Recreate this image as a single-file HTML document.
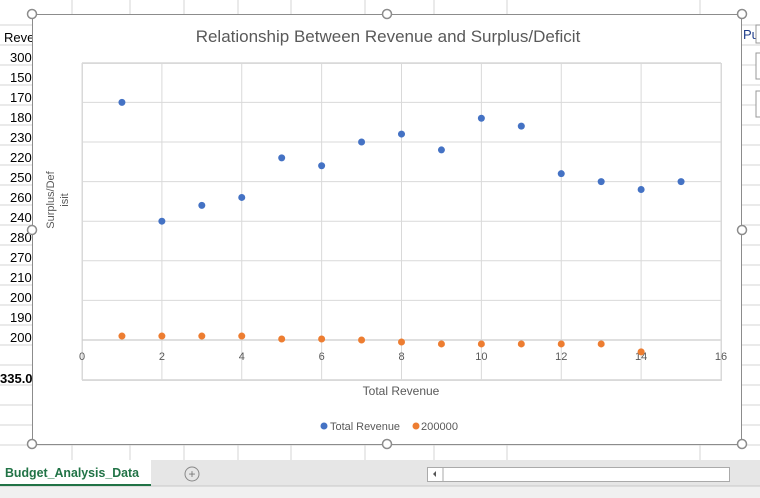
<!DOCTYPE html>
<html><head><meta charset="utf-8"><style>
body{margin:0;width:760px;height:498px;overflow:hidden;background:#fff;font-family:"Liberation Sans",sans-serif;position:relative}
.abs{position:absolute}
</style></head><body>
<svg class="abs" style="left:0;top:0" width="760" height="498">
  <g id="sheetgrid" stroke="#d4d4d4" stroke-width="1"></g>
  <g id="leftcol" font-size="13" fill="#000" font-family="Liberation Sans, sans-serif"></g>
  <text x="4" y="42" font-size="13">Reve</text>
  <text x="0" y="383" font-size="13" font-weight="bold">335.0</text>
  <text x="743" y="39" font-size="13" fill="#1f3d8a">Pu</text>
  <rect x="756" y="25" width="10" height="18" fill="#fff" stroke="#999"/>
  <rect x="756" y="53" width="10" height="26" fill="#fff" stroke="#999"/>
  <rect x="756" y="91" width="10" height="26" fill="#fff" stroke="#999"/>
  <!-- tab bar -->
  <rect x="0" y="460" width="760" height="38" fill="#e6e6e6"/>
  <rect x="0" y="486" width="760" height="12" fill="#f0f0f0"/>
  <line x1="0" y1="486" x2="760" y2="486" stroke="#c8c8c8"/>
  <rect x="0" y="460" width="151" height="26" fill="#fff"/>
  <line x1="0" y1="485" x2="151" y2="485" stroke="#217346" stroke-width="2"/>
  <text x="5" y="477" font-size="13" font-weight="bold" fill="#217346" textLength="134" lengthAdjust="spacingAndGlyphs">Budget_Analysis_Data</text>
  <g><circle cx="192" cy="474" r="7" fill="none" stroke="#888"/><text x="192" y="478" font-size="12" fill="#777" text-anchor="middle">+</text></g>
  <rect x="427.5" y="467.5" width="302" height="14" fill="#fff" stroke="#aaa"/>
  <line x1="443" y1="467" x2="443" y2="481" stroke="#aaa"/>
  <path d="M436 471 L433 474 L436 477Z" fill="#555"/>
  <!-- chart frame -->
  <rect x="32.5" y="14.5" width="709" height="430" fill="#fff" stroke="#8c8c8c"/>
  <g fill="#fff" stroke="#8c8c8c" stroke-width="1.5">
    <circle cx="32" cy="14" r="4.5"/><circle cx="387" cy="14" r="4.5"/><circle cx="742" cy="14" r="4.5"/>
    <circle cx="32" cy="230" r="4.5"/><circle cx="742" cy="230" r="4.5"/>
    <circle cx="32" cy="444" r="4.5"/><circle cx="387" cy="444" r="4.5"/><circle cx="742" cy="444" r="4.5"/>
  </g>
  <text x="388" y="42" font-size="17" fill="#595959" text-anchor="middle">Relationship Between Revenue and Surplus/Deficit</text>
  <g id="plot"></g>
  <text transform="translate(54,200) rotate(-90)" font-size="11" fill="#595959" text-anchor="middle"><tspan x="0" y="0">Surplus/Def</tspan><tspan x="0" y="14">isit</tspan></text>
  <text x="401" y="395" font-size="12" fill="#595959" text-anchor="middle">Total Revenue</text>
  <g>
    <circle cx="324" cy="426" r="3.5" fill="#4472c4"/>
    <text x="330" y="430" font-size="11" fill="#595959" textLength="70" lengthAdjust="spacingAndGlyphs">Total Revenue</text>
    <circle cx="416" cy="426" r="3.5" fill="#ed7d31"/>
    <text x="421" y="430" font-size="11" fill="#595959" textLength="37" lengthAdjust="spacingAndGlyphs">200000</text>
  </g>
</svg>
<script>
const xValues=[1,2,3,4,5,6,7,8,9,10,11,12,13,14,15];
const revenue=[300000,150000,170000,180000,230000,220000,250000,260000,240000,280000,270000,210000,200000,190000,200000];
const surplus=[5000,5000,5000,5000,1300,1300,0,-2500,-5000,-5000,-5000,-5000,-5000,-15000];
const xTicks=[0,2,4,6,8,10,12,14,16];
const leftCells=["300","150","170","180","230","220","250","260","240","280","270","210","200","190","200"];
const NS="http://www.w3.org/2000/svg";
const L=82,R=721,T=63,B=380;
const xs=v=>L+(v-0)/16*(R-L);
const ys=v=>340-v/50000*39.6;
function mk(t,a,p){const e=document.createElementNS(NS,t);for(const k in a)e.setAttribute(k,a[k]);p.appendChild(e);return e;}
const sg=document.getElementById('sheetgrid');
for(let y=25;y<460;y+=20){mk('line',{x1:0,y1:y,x2:760,y2:y},sg);}
[72,130,184,238,291,365,434,507,700].forEach(x=>mk('line',{x1:x,y1:0,x2:x,y2:460},sg));
const lc=document.getElementById('leftcol');
leftCells.forEach((t,i)=>{const e=mk('text',{x:10,y:62+i*20},lc);e.textContent=t;

});
const p=document.getElementById('plot');
const pa=mk('rect',{x:L+.5,y:T+.5,width:R-L,height:B-T,fill:'none',stroke:'#d9d9d9'},p);


for(let v=-50000;v<=350000;v+=50000){const l=mk('line',{x1:L,x2:R,y1:ys(v),y2:ys(v),stroke:v===0?'#bfbfbf':'#d9d9d9'},p);

}
xTicks.forEach(t=>{const l=mk('line',{x1:xs(t),x2:xs(t),y1:T,y2:B,stroke:'#d9d9d9'},p);


const tx=mk('text',{x:xs(t),y:360,'font-size':11,fill:'#595959','text-anchor':'middle'},p);tx.textContent=t;

});
revenue.forEach((v,i)=>{const c=mk('circle',{cx:xs(xValues[i]),cy:ys(v),r:3.5,fill:'#4472c4'},p);

});
surplus.forEach((v,i)=>{const c=mk('circle',{cx:xs(xValues[i]),cy:ys(v),r:3.5,fill:'#ed7d31'},p);

});
</script>
</body></html>
